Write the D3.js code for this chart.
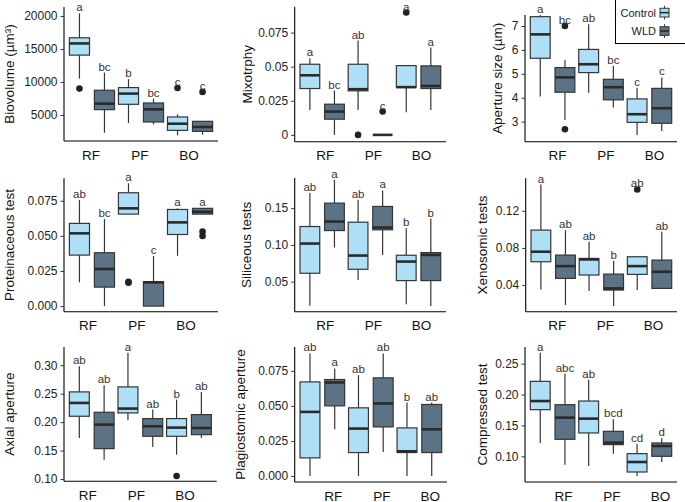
<!DOCTYPE html>
<html>
<head>
<meta charset="utf-8">
<script src="https://cdn.jsdelivr.net/npm/d3@7"></script>
<style>
  body { margin: 0; background: #fff; }
  svg { display: block; font-family: "Liberation Sans", Arial, sans-serif; }
</style>
</head>
<body>
<div id="viz"></div>
<script>
// groups and treatments
const sites = ["RF", "PF", "BO"];
const treatments = ["Control", "WLD"];

// each row: [lower whisker, Q1, median, Q3, upper whisker]
// order: RF-Control, RF-WLD, PF-Control, PF-WLD, BO-Control, BO-WLD
const biovolumeStats = [[10520, 14070, 15840, 16700, 20400], [2315, 5810, 6720, 8750, 11430], [3785, 6620, 8240, 9150, 10420], [3580, 3940, 5860, 6820, 7480], [1910, 2670, 3680, 4700, 5100], [2010, 2520, 3180, 4040, 4090]];
const biovolumeOut = [[9000], [], [], [], [9100], [8500]];
const biovolumeLetters = ["a", "bc", "b", "bc", "c", "c"];
const biovolumeTicks = [5000, 10000, 15000, 20000];

const mixoStats = [[0.0183, 0.034, 0.0437, 0.0518, 0.0562], [0, 0.0115, 0.0171, 0.0225, 0.0325], [0.0183, 0.0323, 0.0335, 0.0518, 0.0692], [0, 0, 0, 0, 0], [0.0166, 0.035, 0.035, 0.0508, 0.0508], [0.0183, 0.034, 0.0359, 0.0506, 0.064]];
const mixoOut = [[], [], [0], [0.0171], [0.0897], []];
const mixoLetters = ["a", "bc", "ab", "c", "a", "a"];
const mixoTicks = [0, 0.025, 0.05, 0.075];

const apertureStats = [[4.05, 5.65, 6.65, 7.39, 7.46], [3.07, 4.23, 4.85, 5.26, 5.58], [4.21, 5.05, 5.4, 6.02, 7.07], [3.59, 3.91, 4.44, 4.77, 5.33], [2.44, 2.97, 3.31, 3.95, 4.42], [2.61, 2.93, 3.56, 4.39, 4.85]];
const apertureOut = [[], [7.0, 2.68], [], [], [], []];
const apertureLetters = ["a", "bc", "ab", "bc", "c", "c"];
const apertureTicks = [3, 4, 5, 6, 7];

const proteinStats = [[0.0169, 0.0363, 0.0518, 0.0589, 0.0755], [0, 0.0135, 0.0264, 0.038, 0.062], [0.0655, 0.0655, 0.0696, 0.0807, 0.0874], [0, 0, 0.0169, 0.0173, 0.0358], [0.0358, 0.051, 0.0596, 0.0688, 0.0696], [0.0655, 0.0655, 0.0672, 0.0696, 0.0696]];
const proteinOut = [[], [], [0.0173, 0.0166], [], [], [0.053, 0.0499]];
const proteinLetters = ["ab", "bc", "a", "c", "a", "a"];
const proteinTicks = [0, 0.025, 0.05, 0.075];

const siliceousStats = [[0.0173, 0.0614, 0.1018, 0.125, 0.1705], [0.0964, 0.1195, 0.1318, 0.1568, 0.1886], [0.0523, 0.0668, 0.0855, 0.1309, 0.1614], [0.0864, 0.1205, 0.1236, 0.1523, 0.1741], [0.0191, 0.0514, 0.0773, 0.0859, 0.1227], [0.0168, 0.0514, 0.0864, 0.0895, 0.1355]];
const siliceousOut = [[], [], [], [], [], []];
const siliceousLetters = ["ab", "a", "ab", "a", "b", "b"];
const siliceousTicks = [0.05, 0.10, 0.15];

const xenoStats = [[0.0353, 0.0651, 0.0759, 0.0992, 0.1483], [0.0185, 0.0472, 0.0604, 0.0723, 0.0992], [0.0335, 0.0508, 0.0676, 0.0687, 0.0866], [0.0174, 0.0346, 0.0364, 0.0518, 0.0662], [0.0346, 0.0515, 0.0604, 0.0705, 0.0705], [0.0357, 0.0364, 0.0543, 0.0669, 0.0974]];
const xenoOut = [[], [], [], [], [0.143], []];
const xenoLetters = ["a", "ab", "ab", "b", "ab", "ab"];
const xenoTicks = [0.04, 0.08, 0.12];

const axialStats = [[0.1721, 0.2103, 0.2337, 0.2531, 0.2982], [0.134, 0.1534, 0.1956, 0.2173, 0.2648], [0.2032, 0.2161, 0.2238, 0.2619, 0.3217], [0.1563, 0.1751, 0.1927, 0.2062, 0.222], [0.1428, 0.1751, 0.1903, 0.2062, 0.2396], [0.1721, 0.178, 0.1897, 0.2132, 0.2531]];
const axialOut = [[], [], [], [], [0.1053], []];
const axialLetters = ["ab", "ab", "a", "ab", "b", "ab"];
const axialTicks = [0.10, 0.15, 0.20, 0.25, 0.30];

const plagioStats = [[0, 0.0129, 0.0457, 0.0671, 0.0874], [0.0333, 0.05, 0.0667, 0.0688, 0.0767], [0, 0.0167, 0.0338, 0.0486, 0.0719], [0.0171, 0.035, 0.0517, 0.07, 0.0874], [0, 0.0167, 0.0176, 0.0343, 0.0524], [0, 0.0167, 0.0333, 0.051, 0.0524]];
const plagioOut = [[], [], [], [], [], []];
const plagioLetters = ["ab", "a", "ab", "ab", "b", "ab"];
const plagioTicks = [0, 0.025, 0.05, 0.075];

const compressedStats = [[0.1216, 0.1755, 0.1895, 0.2214, 0.2678], [0.0865, 0.1275, 0.1626, 0.1836, 0.2338], [0.0844, 0.1378, 0.161, 0.1895, 0.2241], [0.1043, 0.1189, 0.1221, 0.1405, 0.1599], [0.0682, 0.0746, 0.0908, 0.1043, 0.1205], [0.0908, 0.1, 0.1167, 0.1216, 0.1297]];
const compressedOut = [[], [], [], [], [], []];
const compressedLetters = ["a", "abc", "ab", "bcd", "cd", "d"];
const compressedTicks = [0.10, 0.15, 0.20, 0.25];

const fills = { Control: "#aedff7", WLD: "#5b7384" };
const stroke = "#353535";

// panel layout (plot area in px) + y limits
const panels = [
  { title: "Biovolume (µm³)", stats: biovolumeStats, out: biovolumeOut, letters: biovolumeLetters, ticks: biovolumeTicks, fmt: d3.format("d"),
    l: 64, r: 218, t: 7, b: 141, y: [1060, 21360], dx: -1, tx: 14 },
  { title: "Mixotrphy", stats: mixoStats, out: mixoOut, letters: mixoLetters, ticks: mixoTicks, fmt: d => d === 0 ? "0" : String(d),
    l: 294.7, r: 446, t: 6.7, b: 141.7, y: [-0.005, 0.094], dx: 3, tx: 252 },
  { title: "Aperture size (µm)", stats: apertureStats, out: apertureOut, letters: apertureLetters, ticks: apertureTicks, fmt: d3.format("d"),
    l: 525, r: 677, t: 15, b: 141.7, y: [2.16, 7.46], dx: 5, tx: 502 },
  { title: "Proteinaceous test", stats: proteinStats, out: proteinOut, letters: proteinLetters, ticks: proteinTicks, fmt: d3.format(".3f"),
    l: 64, r: 218, t: 178.3, b: 311.7, y: [-0.004, 0.091], dx: -4, tx: 13.5 },
  { title: "Siliceous tests", stats: siliceousStats, out: siliceousOut, letters: siliceousLetters, ticks: siliceousTicks, fmt: d3.format(".2f"),
    l: 294.7, r: 446, t: 178, b: 311.7, y: [0.0091, 0.191], dx: 3, tx: 251 },
  { title: "Xenosomic tests", stats: xenoStats, out: xenoOut, letters: xenoLetters, ticks: xenoTicks, fmt: d3.format(".2f"),
    l: 525.7, r: 677, t: 178.3, b: 311.7, y: [0.0113, 0.155], dx: 4, tx: 486.5 },
  { title: "Axial aperture", stats: axialStats, out: axialOut, letters: axialLetters, ticks: axialTicks, fmt: d3.format(".2f"),
    l: 64, r: 216.7, t: 347, b: 481.3, y: [0.096, 0.332], dx: -4, tx: 14 },
  { title: "Plagiostomic aperture", stats: plagioStats, out: plagioOut, letters: plagioLetters, ticks: plagioTicks, fmt: d3.format(".3f"),
    l: 294.7, r: 447, t: 347, b: 482, y: [-0.0043, 0.092], dx: 11, tx: 244.7 },
  { title: "Compressed test", stats: compressedStats, out: compressedOut, letters: compressedLetters, ticks: compressedTicks, fmt: d3.format(".2f"),
    l: 525, r: 677, t: 347, b: 482, y: [0.0584, 0.277], dx: 11, tx: 486.5 }
];

const svg = d3.select("#viz").append("svg")
    .attr("width", 685)
    .attr("height", 502);

panels.forEach(p => {
  const x = d3.scalePoint().domain(sites).range([p.l, p.r]).padding(0.57);
  const step = x.step();
  const y = d3.scaleLinear().domain(p.y).range([p.b, p.t]);
  const g = svg.append("g");

  // boxes
  const rows = p.stats.map((s, i) => ({
    site: sites[Math.floor(i / 2)], trt: treatments[i % 2], s: s, out: p.out[i], letter: p.letters[i]
  }));
  const bw = 0.41 * step;
  rows.forEach(d => {
    const cx = x(d.site) + (d.trt === "Control" ? -1 : 1) * 0.255 * step;
    const [lo, q1, med, q3, hi] = d.s;
    const bg = g.append("g");
    bg.append("line").attr("x1", cx).attr("x2", cx).attr("y1", y(hi)).attr("y2", y(q3))
      .attr("stroke", stroke).attr("stroke-width", 1.2);
    bg.append("line").attr("x1", cx).attr("x2", cx).attr("y1", y(q1)).attr("y2", y(lo))
      .attr("stroke", stroke).attr("stroke-width", 1.2);
    bg.append("rect").attr("x", cx - bw / 2).attr("width", bw)
      .attr("y", y(q3)).attr("height", Math.max(0, y(q1) - y(q3)))
      .attr("fill", fills[d.trt]).attr("stroke", stroke).attr("stroke-width", 1.2);
    bg.append("line").attr("x1", cx - bw / 2).attr("x2", cx + bw / 2).attr("y1", y(med)).attr("y2", y(med))
      .attr("stroke", "#2a2a2a").attr("stroke-width", 2.6);
    d.out.forEach(o => {
      bg.append("circle").attr("cx", cx).attr("cy", y(o)).attr("r", 3.3).attr("fill", "#222");
    });
    const top = d3.max([hi].concat(d.out));
    bg.append("text").attr("x", cx).attr("y", y(top) - 2)
      .attr("text-anchor", "middle").attr("font-size", 11.5).attr("fill", "#333")
      .text(d.letter);
  });

  // y axis
  const yAxis = d3.axisLeft(y).tickValues(p.ticks).tickFormat(p.fmt).tickSizeOuter(0).tickSize(3.5).tickPadding(3);
  const ya = g.append("g").attr("transform", `translate(${p.l},0)`).call(yAxis);
  ya.select(".domain").attr("d", `M0,${p.t}V${p.b}`).attr("stroke", "#000").attr("stroke-width", 1.1);
  ya.selectAll(".tick line").attr("stroke", "#333");
  ya.selectAll(".tick text").attr("font-size", 12).attr("fill", "#222")
    .attr("font-family", "Liberation Sans, Arial, sans-serif");

  // x axis line and labels
  g.append("line").attr("x1", p.l).attr("x2", p.r).attr("y1", p.b).attr("y2", p.b)
    .attr("stroke", "#000").attr("stroke-width", 1.1);
  sites.forEach(s => {
    g.append("text").attr("x", x(s) + p.dx).attr("y", p.b + 18.5)
      .attr("text-anchor", "middle").attr("font-size", 13.5).attr("fill", "#111").text(s);
  });

  // y title
  g.append("text")
    .attr("transform", `translate(${p.tx},${(p.t + p.b) / 2}) rotate(-90)`)
    .attr("text-anchor", "middle").attr("font-size", 13.5).attr("fill", "#111")
    .text(p.title);
});

// legend (top right)
const lg = svg.append("g");
lg.append("rect").attr("x", 615.5).attr("y", -2).attr("width", 80).attr("height", 45.5)
  .attr("fill", "#fff").attr("stroke", "#000").attr("stroke-width", 1);
treatments.forEach((t, i) => {
  const ky = i === 0 ? 8.3 : 26.7;
  const kx = 660, kw = 9, kh = 8.7;
  lg.append("line").attr("x1", kx + kw / 2).attr("x2", kx + kw / 2).attr("y1", ky - 2.5).attr("y2", ky + kh + 2.5)
    .attr("stroke", stroke).attr("stroke-width", 1);
  lg.append("rect").attr("x", kx).attr("y", ky).attr("width", kw).attr("height", kh)
    .attr("fill", fills[t]).attr("stroke", stroke).attr("stroke-width", 1);
  lg.append("line").attr("x1", kx).attr("x2", kx + kw).attr("y1", ky + kh / 2).attr("y2", ky + kh / 2)
    .attr("stroke", "#2a2a2a").attr("stroke-width", 1.6);
  lg.append("text").attr("x", 656).attr("y", ky + kh - 0.5)
    .attr("text-anchor", "end").attr("font-size", 11).attr("fill", "#222").text(t);
});
</script>
</body>
</html>
